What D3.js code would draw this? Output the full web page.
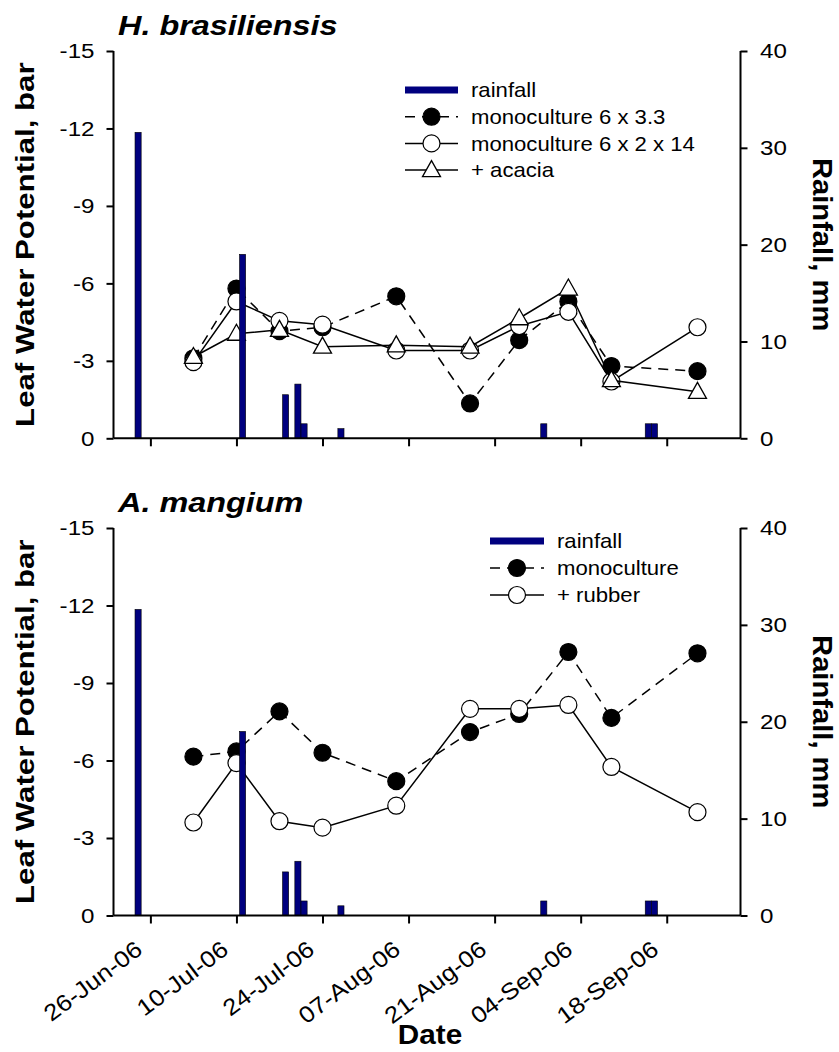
<!DOCTYPE html>
<html><head><meta charset="utf-8">
<script src="https://cdn.jsdelivr.net/npm/d3@7"></script>
<style>
body{margin:0;background:#fff;}
svg{display:block;font-family:"Liberation Sans",Arial,sans-serif;}
</style></head>
<body><svg id="c" width="839" height="1052"></svg>
<script>
// ---- data ----
const sampleDates = ["2006-07-03","2006-07-10","2006-07-17","2006-07-24","2006-08-05","2006-08-17","2006-08-25","2006-09-02","2006-09-09","2006-09-23"];
const hbMono33  = [-3.1, -5.8, -4.15, -4.3, -5.5, -1.35, -3.8, -5.3, -2.8, -2.6];
const hbMono214 = [-2.95, -5.3, -4.55, -4.4, -3.4, -3.4, -4.35, -4.9, -2.2, -4.3];
const hbAcacia  = [-3.15, -4.05, -4.2, -3.55, -3.6, -3.55, -4.65, -5.8, -2.25, -1.8];
const amMono    = [-6.15, -6.35, -7.9, -6.3, -5.2, -7.1, -7.8, -10.2, -7.65, -10.15];
const amRubber  = [-3.6, -5.9, -3.65, -3.4, -4.25, -8.0, -8.0, -8.15, -5.75, -4.0];
const rainDates = ["2006-06-24","2006-07-11","2006-07-18","2006-07-20","2006-07-21","2006-07-27","2006-08-29","2006-09-15","2006-09-16"];
const rainMm    = [31.6, 19.0, 4.5, 5.6, 1.5, 1.0, 1.5, 1.5, 1.5];
const xTickDates = ["2006-06-26","2006-07-10","2006-07-24","2006-08-07","2006-08-21","2006-09-04","2006-09-18"];
const xTickLabels = ["26-Jun-06","10-Jul-06","24-Jul-06","07-Aug-06","21-Aug-06","04-Sep-06","18-Sep-06"];
const lwpTicks = [0,-3,-6,-9,-12,-15];
const rainTicks = [0,10,20,30,40];
const titles = ["H. brasiliensis","A. mangium"];
const legendTop = ["rainfall","monoculture 6 x 3.3","monoculture 6 x 2 x 14","+ acacia"];
const legendBottom = ["rainfall","monoculture","+ rubber"];

const parse = d3.utcParse("%Y-%m-%d");
const svg = d3.select("#c");
const FONT = '"Liberation Sans",Arial,sans-serif';

function txt(g, x, y, s, o) {
  return g.append("text")
    .attr("transform", `translate(${x},${y}) rotate(${o.rot||0}) scale(${o.sx||1},1)`)
    .attr("text-anchor", o.anchor||"start")
    .attr("font-size", o.size)
    .attr("font-weight", o.weight||"normal")
    .attr("font-style", o.style||"normal")
    .attr("dy", o.dy||0)
    .attr("fill","#000")
    .text(s);
}

const x = d3.scaleUtc().domain([Date.UTC(2006,5,20), Date.UTC(2006,8,30)]).range([113.5, 740.5]);
const dayW = x(Date.UTC(2006,5,21)) - x(Date.UTC(2006,5,20));

const triPath = "M0,-9.5L9,6.5L-9,6.5Z";

const panels = [
  { top: 51, bottom: 438.3, title: titles[0], titleY: 35,
    series: [
      {vals: hbMono33, fill:"#000", dash:"10,7", shape:"circle"},
      {vals: hbMono214, fill:"#fff", dash:null, shape:"circle"},
      {vals: hbAcacia, fill:"#fff", dash:null, shape:"tri"}
    ],
    legend: {labels: legendTop, x0:405, x1:458, tx:471, y0:90, dy:26.7},
    xLabels:false },
  { top: 528, bottom: 915.5, title: titles[1], titleY: 512,
    series: [
      {vals: amMono, fill:"#000", dash:"10,7", shape:"circle"},
      {vals: amRubber, fill:"#fff", dash:null, shape:"circle"}
    ],
    legend: {labels: legendBottom, x0:490, x1:544, tx:557, y0:541, dy:27},
    xLabels:true }
];

function marker(g, shape, cx, cy, fill) {
  if (shape === "circle") {
    g.append("circle").attr("cx",cx).attr("cy",cy).attr("r",8.5)
      .attr("fill",fill).attr("stroke","#000").attr("stroke-width",1.2);
  } else {
    g.append("path").attr("d",triPath).attr("transform",`translate(${cx},${cy})`)
      .attr("fill",fill).attr("stroke","#000").attr("stroke-width",1.3);
  }
}

panels.forEach(p => {
  const y = d3.scaleLinear().domain([0,-15]).range([p.bottom, p.top]);
  const yr = d3.scaleLinear().domain([0,40]).range([p.bottom, p.top]);
  const g = svg.append("g");

  // series
  p.series.forEach(s => {
    const pts = sampleDates.map((d,i)=>[x(parse(d)), y(s.vals[i])]);
    g.append("path").attr("d", d3.line()(pts)).attr("fill","none")
      .attr("stroke","#000").attr("stroke-width",1.5)
      .attr("stroke-dasharray", s.dash);
    pts.forEach(pt => marker(g, s.shape, pt[0], pt[1], s.fill));
  });

  // rainfall bars
  g.selectAll(null).data(rainDates).enter().append("rect")
    .attr("x", (d)=> x(parse(d)) - dayW/2)
    .attr("width", dayW)
    .attr("y", (d,i)=> yr(rainMm[i]))
    .attr("height", (d,i)=> p.bottom - yr(rainMm[i]))
    .attr("fill","#00007f").attr("stroke","#000").attr("stroke-width",0.6);

  // axes
  const axL = g.append("g").attr("transform",`translate(${x.range()[0]},0)`)
    .call(d3.axisLeft(y).tickValues(lwpTicks).tickSize(7).tickPadding(12).tickFormat(d=>String(d)));
  const axR = g.append("g").attr("transform",`translate(${x.range()[1]},0)`)
    .call(d3.axisRight(yr).tickValues(rainTicks).tickSize(7).tickPadding(12).tickFormat(d=>String(d)));
  const axB = g.append("g").attr("transform",`translate(0,${p.bottom})`)
    .call(d3.axisBottom(x).tickValues(xTickDates.map(parse)).tickSize(8)
      .tickFormat((d,i)=> p.xLabels ? xTickLabels[i] : ""));
  [axL,axR,axB].forEach(a=>{
    a.select(".domain").attr("stroke","#000").attr("stroke-width",2);
    a.selectAll(".tick line").attr("stroke","#000").attr("stroke-width",2);
    a.selectAll("text").attr("font-family",FONT).attr("fill","#000");
  });
  axL.select(".domain").attr("d",`M0,${p.bottom}V${p.top}`);
  axR.select(".domain").attr("d",`M0,${p.bottom}V${p.top}`);
  axB.select(".domain").attr("d",`M${x.range()[0]},0H${x.range()[1]}`);
  axL.selectAll("text").attr("font-size",21).attr("x",null)
     .attr("transform","translate(-19,0) scale(1.15,1)");
  axR.selectAll("text").attr("font-size",21).attr("x",null).attr("text-anchor","start")
     .attr("transform","translate(19.5,0) scale(1.15,1)");
  if (p.xLabels) {
    axB.selectAll("text").attr("font-size",23).attr("y",null).attr("dy",0)
      .attr("text-anchor","end")
      .attr("transform","translate(-7,37) rotate(-37) scale(1.12,1)");
  }

  // title
  txt(g, 118, p.titleY, p.title, {size:27, weight:"bold", style:"italic", sx:1.2});

  // axis titles
  const mid = (p.top + p.bottom)/2;
  txt(g, 34, mid, "Leaf Water Potential, bar", {rot:-90, anchor:"middle", size:26, weight:"bold", sx:1.2});
  txt(g, 813, mid, "Rainfall, mm", {rot:90, anchor:"middle", size:27, weight:"bold", sx:1.08});

  // legend
  const L = p.legend;
  const lg = g.append("g");
  L.labels.forEach((lab,i)=>{
    const ry = L.y0 + i*L.dy;
    if (i===0) {
      lg.append("rect").attr("x",L.x0).attr("y",ry-3.5).attr("width",L.x1-L.x0).attr("height",7).attr("fill","#00007f");
    } else {
      const s = p.series[i-1];
      lg.append("line").attr("x1",L.x0).attr("x2",L.x1).attr("y1",ry).attr("y2",ry)
        .attr("stroke","#000").attr("stroke-width",1.5).attr("stroke-dasharray", s.dash);
      marker(lg, s.shape, (L.x0+L.x1)/2, ry, s.fill);
    }
    txt(lg, L.tx, ry, lab, {size:20.5, sx:1.08, dy:"0.35em"});
  });
});

txt(svg, 430, 1044, "Date", {anchor:"middle", size:27, weight:"bold", sx:1.1});
</script></body></html>
